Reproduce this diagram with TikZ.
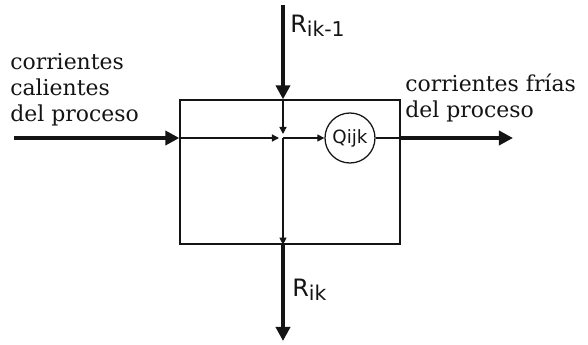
\documentclass[tikz,border=0pt]{standalone}
\usepackage{fontspec}
\setmainfont{DejaVu Serif}
\newfontfamily\labelfont{DejaVu Sans}
\usepackage{xcolor}
\definecolor{inkblack}{RGB}{20, 20, 20}
\usetikzlibrary{arrows.meta, positioning, calc}

\begin{document}
\begin{tikzpicture}[x=0.025cm, y=-0.025cm,
    flow/.style={inkblack, line width=2.6pt, -{Triangle[length=10pt, width=10pt]}},
    inner/.style={inkblack, line width=0.9pt},
    tip/.style={-{Triangle[length=5pt, width=5pt]}},
    txt/.style={font=\fontsize{15.6}{18.2}\selectfont, inkblack, align=left, inner sep=0pt},
    lbl/.style={font=\labelfont\fontsize{17}{18}\selectfont, inkblack, inner sep=0pt}]
      % Frame
      \useasboundingbox (0,0) rectangle (588,344);
      % Exchanger box
      \node[draw, inner, minimum width=5.5cm, minimum height=3.6cm] (box) at (290,172) {};
      % Ends of the streams
      \coordinate (top) at (283,5);
      \coordinate (bot) at (283,341);
      \coordinate (hotin) at (14,138);
      \coordinate (coldout) at (513,138);
      \coordinate (cross) at (top |- hotin);
      % Heat node
      \node[draw, inner, circle, minimum size=1.25cm, inner sep=0pt,
            font=\labelfont\fontsize{13}{15}\selectfont] (q) at (350,138) {Qijk};
      % Thick streams
      \draw[flow] (top) -- (top |- box.north);
      \draw[flow] (top |- box.south) -- (bot);
      \draw[flow] (hotin) -- (hotin -| box.west);
      \draw[flow] (hotin -| box.east) -- (coldout);
      % Thin lines in the box
      \draw[inner, tip] (top |- box.north) -- ($(cross)+(0,-4)$);
      \draw[inner, tip] (cross) -- (top |- box.south);
      \draw[inner, tip] (hotin -| box.west) -- ($(cross)+(-4,0)$);
      \draw[inner, tip] (cross) -- (q);
      \draw[inner] (q) -- (hotin -| box.east);
      % Labels
      \node[lbl, anchor=base west] (rin) at (290,32) {R\raisebox{-0.35ex}{\fontsize{14.5}{16}\selectfont ik-1}};
      \node[lbl, anchor=base west] (rout) at (292,296) {R\raisebox{-0.35ex}{\fontsize{14.5}{16}\selectfont ik}};
      \node[txt, anchor=base west] (hot) at (10,121)
        {corrientes\\calientes\\del proceso};
      \node[txt, anchor=base west] (cold) at (405,117)
        {corrientes frías\\del proceso};
\end{tikzpicture}
\end{document}
